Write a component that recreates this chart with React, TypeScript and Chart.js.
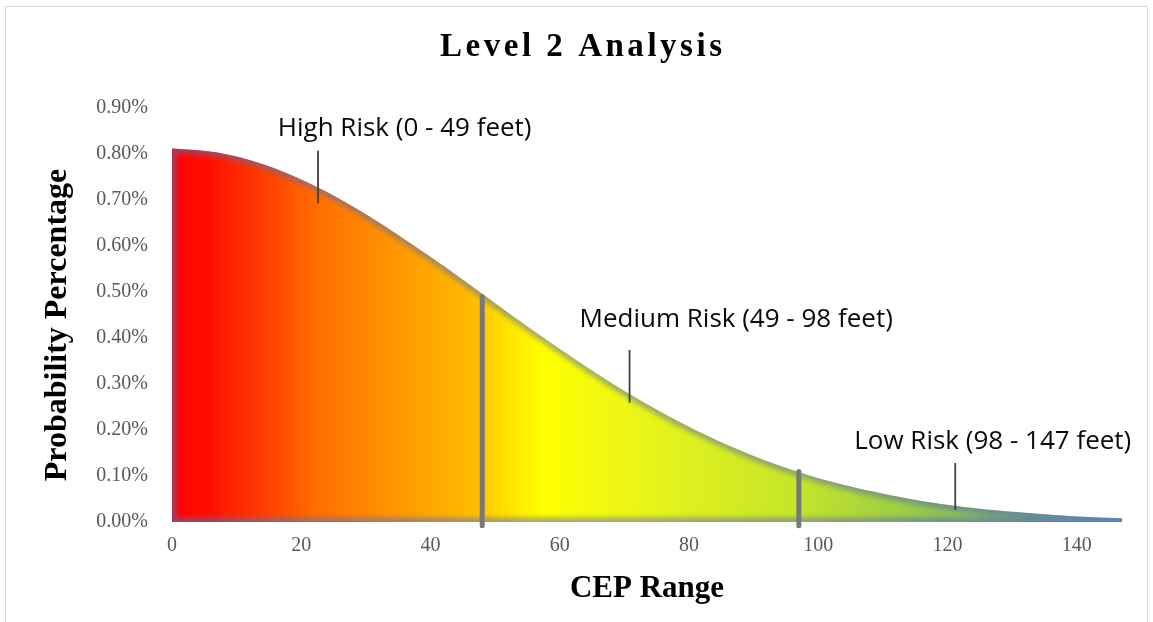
import React, { useEffect, useRef } from "react";
import { Chart, registerables } from "chart.js";

Chart.register(...registerables);

// ---- data ----
const cepRange = [0, 7, 14, 21, 28, 35, 42, 49, 56, 63, 70, 77, 84, 91, 98, 105, 112, 119, 126, 133, 140, 147];
const probability = [0.812, 0.803, 0.778, 0.738, 0.686, 0.624, 0.557, 0.486, 0.415, 0.348, 0.285, 0.229, 0.18, 0.138, 0.104, 0.077, 0.056, 0.039, 0.027, 0.019, 0.012, 0.008];

const boundaryX = [48, 97];
const boundaryTop = [0.49, 0.11];
const boundaryBottom = -0.008;

const riskLabels = ["High Risk (0 - 49 feet)", "Medium Risk (49 - 98 feet)", "Low Risk (98 - 147 feet)"];
const leaderX = [22.6, 70.8, 121.2];
const leaderTop = [0.807, 0.374, 0.128];
const leaderBottom = [0.693, 0.259, 0.026];
const labelX = [36.0, 87.3, 127.0];
const labelY = [0.839, 0.424, 0.159];

const yTickStep = 0.1;
const yMax = 0.9;
const xMax = 147;
const xTickStep = 20;

const chartTitle = "Level 2 Analysis";
const xTitle = "CEP Range";
const yTitle = "Probability Percentage";

const gradientStops: [number, string][] = [
  [0, "#ff0000"],
  [0.04, "#ff1000"],
  [0.1, "#ff4000"],
  [0.15, "#ff6c00"],
  [0.22, "#ff8f00"],
  [0.28, "#ffac00"],
  [0.325, "#ffc200"],
  [0.34, "#ffd800"],
  [0.39, "#ffff00"],
  [0.5, "#e8f41a"],
  [0.66, "#c4e42a"],
  [0.78, "#98cc48"],
  [0.88, "#78b270"],
  [1, "#5c9cc8"],
];

const serif = "'Liberation Serif', 'Times New Roman', serif";
const sans = "'Open Sans', sans-serif";

const softEdge = {
  id: "softEdge",
  afterDatasetDraw(chart: any, args: any) {
    if (args.index !== 0) return;
    const meta = chart.getDatasetMeta(0);
    const line: any = meta.dataset;
    const pts = meta.data;
    if (!line || !pts.length) return;
    const ctx = chart.ctx as CanvasRenderingContext2D;
    const bottom = chart.scales.y.getPixelForValue(0);
    const first = pts[0];
    const last = pts[pts.length - 1];
    const buildPath = () => {
      ctx.beginPath();
      line.path(ctx);
      ctx.lineTo(last.x, bottom);
      ctx.lineTo(first.x, bottom);
      ctx.closePath();
    };
    ctx.save();
    buildPath();
    ctx.clip();
    ctx.filter = "blur(2.5px)";
    ctx.lineWidth = 9;
    ctx.lineJoin = "round";
    ctx.strokeStyle = "rgba(95,110,170,0.55)";
    buildPath();
    ctx.stroke();
    ctx.restore();
  },
};

const texts = {
  id: "texts",
  afterDraw(chart: any) {
    const ctx = chart.ctx as CanvasRenderingContext2D;
    const xs = chart.scales.x;
    const ys = chart.scales.y;
    const area = chart.chartArea;
    ctx.save();
    // title
    ctx.fillStyle = "#000";
    ctx.font = `bold 33px ${serif}`;
    ctx.textAlign = "left";
    ctx.textBaseline = "alphabetic";
    (ctx as any).letterSpacing = "0px";
    const plain = ctx.measureText(chartTitle).width;
    const spacing = Math.max(0, (282 - plain) / (chartTitle.length - 1));
    (ctx as any).letterSpacing = `${spacing}px`;
    ctx.fillText(chartTitle, 440, 56);
    (ctx as any).letterSpacing = "0px";
    // x title
    ctx.font = `bold 31px ${serif}`;
    ctx.textAlign = "center";
    ctx.fillText(xTitle, (area.left + area.right) / 2, 597);
    // y title
    ctx.font = `bold 32px ${serif}`;
    ctx.translate(66, 325);
    ctx.rotate(-Math.PI / 2);
    ctx.fillText(yTitle, 0, 0);
    ctx.restore();

    ctx.save();
    ctx.font = `26px ${sans}`;
    ctx.fillStyle = "#0a0a0a";
    ctx.textAlign = "center";
    ctx.textBaseline = "alphabetic";
    riskLabels.forEach((t, i) => {
      ctx.fillText(t, xs.getPixelForValue(labelX[i]), ys.getPixelForValue(labelY[i]));
    });
    ctx.restore();
  },
};

export default function App() {
  const ref = useRef<HTMLCanvasElement | null>(null);

  useEffect(() => {
    if (!ref.current) return;
    const mainData = cepRange.map((x, i) => ({ x, y: probability[i] }));
    const boundaryDatasets = boundaryX.map((bx, i) => ({
      type: "line" as const,
      order: 1,
      data: [
        { x: bx, y: boundaryBottom },
        { x: bx, y: boundaryTop[i] },
      ],
      borderColor: "#787878",
      borderWidth: 5,
      borderCapStyle: "round" as const,
      pointRadius: 0,
      fill: false,
      clip: false as any,
    }));
    const leaderDatasets = leaderX.map((lx, i) => ({
      type: "line" as const,
      order: 0,
      data: [
        { x: lx, y: leaderTop[i] },
        { x: lx, y: leaderBottom[i] },
      ],
      borderColor: "#404040",
      borderWidth: 1.8,
      pointRadius: 0,
      fill: false,
      clip: false as any,
    }));

    const chart = new Chart(ref.current, {
      type: "line",
      data: {
        datasets: [
          {
            order: 10,
            data: mainData,
            fill: "origin",
            borderWidth: 0,
            borderColor: "rgba(0,0,0,0)",
            pointRadius: 0,
            cubicInterpolationMode: "monotone",
            backgroundColor: (c: any) => {
              const a = c.chart.chartArea;
              if (!a) return "#ff8800";
              const g = c.chart.ctx.createLinearGradient(a.left, 0, a.right, 0);
              gradientStops.forEach(([p, col]) => g.addColorStop(p, col));
              return g;
            },
          } as any,
          ...boundaryDatasets,
          ...leaderDatasets,
        ],
      },
      options: {
        responsive: false,
        animation: false,
        layout: { padding: { left: 0, right: 31, top: 108, bottom: 0 } },
        plugins: {
          legend: { display: false },
          title: { display: false },
          tooltip: { enabled: false },
        },
        scales: {
          x: {
            type: "linear",
            min: 0,
            max: xMax,
            grid: { display: false, drawTicks: false },
            border: { display: false },
            ticks: {
              stepSize: xTickStep,
              includeBounds: false,
              padding: 12,
              maxRotation: 0,
              autoSkip: false,
              color: "#595959",
              font: { family: serif, size: 20 },
            },
            afterFit: (s: any) => {
              s.height = 100;
            },
          },
          y: {
            type: "linear",
            min: 0,
            max: yMax,
            grid: { display: false, drawTicks: false },
            border: { display: false },
            ticks: {
              stepSize: yTickStep,
              padding: 24,
              color: "#595959",
              font: { family: serif, size: 20 },
              callback: (v: any) => `${Number(v).toFixed(2)}%`,
            },
            afterFit: (s: any) => {
              s.width = 172;
            },
          },
        },
      },
      plugins: [softEdge, texts],
    });
    return () => chart.destroy();
  }, []);

  return (
    <div style={{ position: "absolute", left: 0, top: 0, width: 1153, height: 622, background: "#fff" }}>
      <div
        style={{
          position: "absolute",
          left: 5,
          top: 6,
          width: 1143,
          height: 616,
          boxSizing: "border-box",
          borderTop: "1.5px solid #d9d9d9",
          borderLeft: "1.5px solid #d9d9d9",
          borderRight: "1.5px solid #d9d9d9",
        }}
      />
      <canvas ref={ref} width={1153} height={622} style={{ position: "absolute", left: 0, top: 0, width: 1153, height: 622 }} />
    </div>
  );
}
